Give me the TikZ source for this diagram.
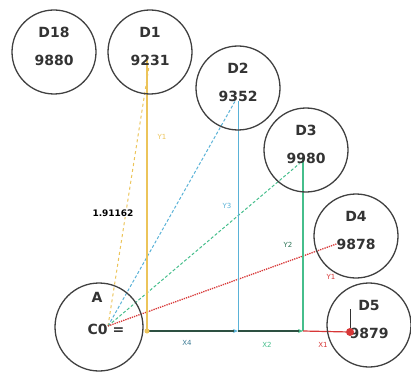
\documentclass[tikz,border=0pt]{standalone}
\usepackage{fontspec}
\setmainfont{DejaVu Sans}
\usepackage{xcolor}
\usepackage{tikz}
\usetikzlibrary{arrows.meta, positioning, calc, backgrounds}

\definecolor{ylw}{RGB}{236,196,90}
\definecolor{blu}{RGB}{90,178,215}
\definecolor{grn}{RGB}{70,190,140}
\definecolor{rdd}{RGB}{215,55,55}
\definecolor{bsl}{RGB}{45,80,65}

\tikzset{
  dcirc/.style={circle, draw=black!75, line width=1.3pt, minimum size=84pt, inner sep=0pt},
  dtext/.style={font=\fontsize{14}{16}\selectfont\bfseries, text=black!80, inner sep=0pt},
  lbl/.style={font=\fontsize{7}{8}\selectfont, inner sep=1pt},
  seg/.style={line width=1pt}
}

\begin{document}
\begin{tikzpicture}[x=1pt, y=-1pt]
  \useasboundingbox (0,0) rectangle (411,374);
  % the target circles with their names and values
  \foreach \nm/\cx/\cy/\lab/\num in {d18/54/52/D18/9880, d1/150/52/D1/9231,
      d2/238/88/D2/9352, d3/306/150/D3/9980, d4/356/236/D4/9878, d5/369/325/D5/9879} {
    \node[dcirc] (\nm) at (\cx,\cy) {};
    \node[dtext] (\nm-lab) at (\cx,\cy-20) {\lab};
    \node[dtext] (\nm-num) at (\cx,\cy+8) {\num};
  }
  % the source circle
  \node[dcirc, minimum size=88pt] (a) at (99,327) {};
  \node[dtext] (a-lab) at (97,297) {A};
  \node[dtext] (a-val) at (106,329) {C0 =};

  \coordinate (o)  at (108,326);
  \coordinate (f1) at (147,331);
  \coordinate (f2) at (238,331);
  \coordinate (f3) at (303,331);
  \coordinate (p5t) at (352,309);
  \node[circle, fill=rdd, minimum size=8pt, inner sep=0pt] (p5) at (350,332) {};

  \begin{scope}[on background layer]
    % direct distances
    \draw[ylw, seg, dashed] (o) -- (d1-num);
    \draw[blu, seg, densely dashed] (o) -- (d2-num);
    \draw[grn, seg, densely dashed] (o) -- (d3-num);
    \draw[rdd, line width=1.3pt, densely dotted] (o) -- (d4-num.west);
    % vertical offsets
    \draw[ylw, line width=1.2pt] (f1) -- (f1 |- d1-num);
    \draw[blu, seg] (f2) -- (d2-num);
    \draw[grn, line width=1.2pt] (f3) -- (f3 |- d3-num);
    % horizontal offsets
    \draw[bsl, line width=1.2pt, -{Stealth[length=5pt, width=4pt, color=blu]}] (f1) -- (f2);
    \draw[bsl, line width=1.2pt, -{Stealth[length=5pt, width=4pt, color=grn]}] (f2) -- (f3);
    \draw[rdd, line width=1.2pt] (f3) -- (p5);
    \draw[black!80, line width=1pt] (p5.north) -- (p5.north |- p5t);
    \fill[ylw] (f1) circle (2.5);
  \end{scope}

  % labels
  \node[lbl, fill=white, font=\fontsize{9}{10}\selectfont\bfseries] (len) at (113,213) {1.91162};
  \node[lbl, text=ylw] (ly1) at (162,137) {Y1};
  \node[lbl, text=blu] (ly3) at (227,206) {Y3};
  \node[lbl, text=grn!60!black] (ly2) at (288,245) {Y2};
  \node[lbl, text=rdd] (ly5) at (331,277) {Y1};
  \node[lbl, text=blu!70!black] (lx4) at (187,343) {X4};
  \node[lbl, text=grn] (lx2) at (267,345) {X2};
  \node[lbl, text=rdd] (lx1) at (323,345) {X1};
\end{tikzpicture}
\end{document}
